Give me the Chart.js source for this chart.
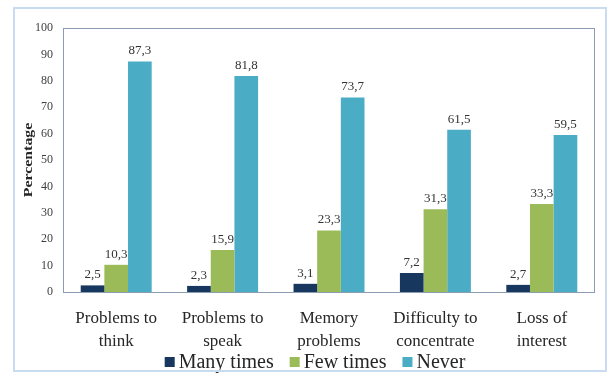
<!DOCTYPE html>
<html>
<head>
<meta charset="utf-8">
<script src="https://cdn.jsdelivr.net/npm/chart.js@4"></script>
<style>
  html, body { margin: 0; padding: 0; background: #fff; }
  #wrap { position: relative; width: 612px; height: 374px; }
  #frame { position: absolute; left: 13px; top: 7px; width: 590px; height: 361px;
           border: 2px solid #c9dbef; pointer-events: none; }
</style>
</head>
<body>
<div id="wrap">
  <canvas id="chart" width="612" height="374"></canvas>
  <div id="frame"></div>
</div>
<script>
// --- Daten ---
const categories = [
  ['Problems to', 'think'],
  ['Problems to', 'speak'],
  ['Memory', 'problems'],
  ['Difficulty to', 'concentrate'],
  ['Loss of', 'interest']
];
const manyTimes = [2.5, 2.3, 3.1, 7.2, 2.7];
const fewTimes = [10.3, 15.9, 23.3, 31.3, 33.3];
const never = [87.3, 81.8, 73.7, 61.5, 59.5];
const yTicks = [0, 10, 20, 30, 40, 50, 60, 70, 80, 90, 100];

const SERIF = '"Liberation Serif", "Times New Roman", serif';

// Werte ueber den Balken (Komma als Dezimaltrenner)
const valueLabels = {
  id: 'valueLabels',
  afterDatasetsDraw(chart) {
    const ctx = chart.ctx;
    ctx.save();
    ctx.font = '13px ' + SERIF;
    ctx.fillStyle = '#333';
    ctx.textAlign = 'center';
    ctx.textBaseline = 'bottom';
    chart.data.datasets.forEach((ds, i) => {
      chart.getDatasetMeta(i).data.forEach((bar, j) => {
        ctx.fillText(ds.data[j].toFixed(1).replace('.', ','), bar.x, bar.y - 4);
      });
    });
    ctx.restore();
  }
};

// Rahmen um die Zeichenflaeche, Achsentitel und Legende
const decorations = {
  id: 'decorations',
  afterDraw(chart) {
    const a = chart.chartArea;
    const ctx = chart.ctx;
    ctx.save();
    ctx.strokeStyle = '#8a9bb3';
    ctx.lineWidth = 1;
    ctx.strokeRect(a.left + 0.5, a.top + 0.5, a.right - a.left - 1, a.bottom - a.top);

    // y-Achsentitel (leicht gestreckt wie im Original)
    ctx.save();
    ctx.translate(29, (a.top + a.bottom) / 2);
    ctx.rotate(-Math.PI / 2);
    ctx.scale(1.22, 1);
    ctx.font = 'bold 13px ' + SERIF;
    ctx.fillStyle = '#262626';
    ctx.textAlign = 'center';
    ctx.textBaseline = 'middle';
    ctx.fillText('Percentage', 0, 0);
    ctx.restore();

    // Legende
    ctx.font = '20px ' + SERIF;
    ctx.textBaseline = 'middle';
    ctx.textAlign = 'left';
    const box = 10, gapText = 4, gapItem = 16;
    const items = chart.data.datasets.map(ds => ({
      label: ds.label, color: ds.backgroundColor, w: ctx.measureText(ds.label).width
    }));
    const total = items.reduce((s, it) => s + box + gapText + it.w, 0) + gapItem * (items.length - 1);
    let x = 315 - total / 2;
    const y = 363;
    items.forEach(it => {
      ctx.fillStyle = it.color;
      ctx.fillRect(x, y - box / 2 - 1, box, box);
      x += box + gapText;
      ctx.fillStyle = '#262626';
      ctx.fillText(it.label, x, y);
      x += it.w + gapItem;
    });
    ctx.restore();
  }
};

new Chart(document.getElementById('chart'), {
  type: 'bar',
  data: {
    labels: categories,
    datasets: [
      { label: 'Many times', data: manyTimes, backgroundColor: '#17375e' },
      { label: 'Few times', data: fewTimes, backgroundColor: '#9bbb59' },
      { label: 'Never', data: never, backgroundColor: '#4bacc6' }
    ]
  },
  options: {
    responsive: false,
    animation: false,
    layout: { padding: { top: 28, right: 17, left: 0, bottom: 23 } },
    datasets: { bar: { categoryPercentage: 0.667, barPercentage: 1.0 } },
    scales: {
      x: {
        grid: { display: false, drawTicks: false },
        border: { display: false },
        ticks: { color: '#262626', font: { family: SERIF, size: 17, lineHeight: 1.35 }, padding: 15, maxRotation: 0 },
        afterFit(scale) { scale.height = 59; }
      },
      y: {
        min: 0, max: 100,
        afterBuildTicks(scale) { scale.ticks = yTicks.map(v => ({ value: v })); },
        grid: { display: false, drawTicks: false },
        border: { display: false },
        ticks: { color: '#404040', font: { family: SERIF, size: 12 }, padding: 10 },
        afterFit(scale) { scale.width = 63; }
      }
    },
    plugins: {
      legend: { display: false },
      tooltip: { enabled: false }
    }
  },
  plugins: [valueLabels, decorations]
});
</script>
</body>
</html>
